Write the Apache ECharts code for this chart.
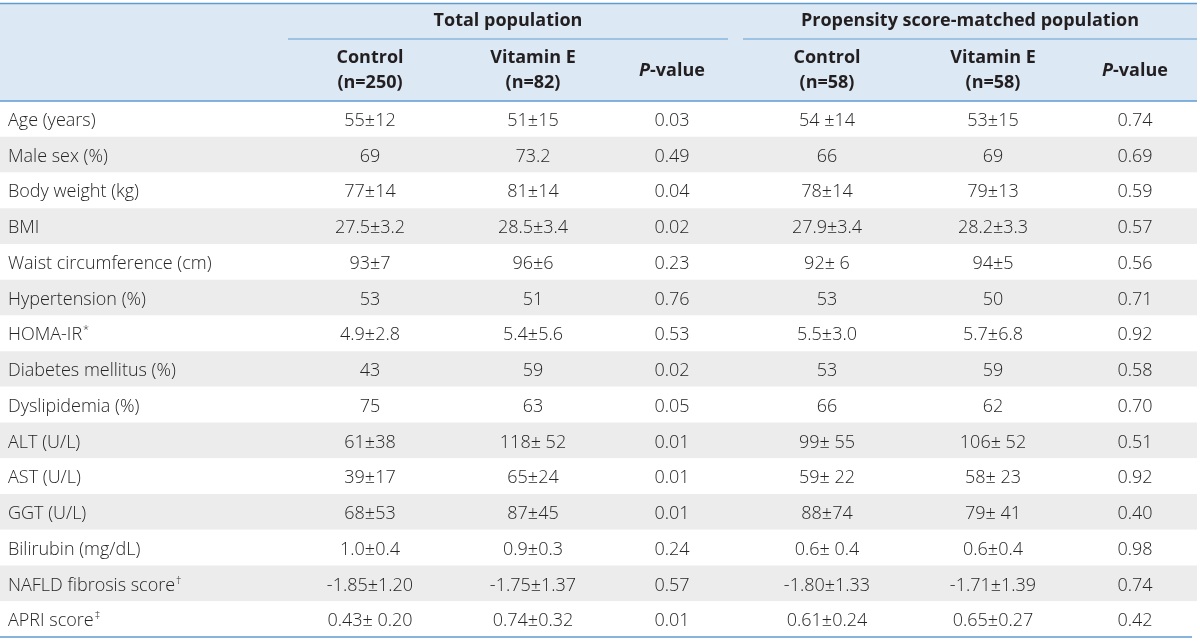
<!DOCTYPE html>
<html>
<head>
<meta charset="utf-8">
<script src="https://cdn.jsdelivr.net/npm/echarts@6/dist/echarts.min.js"></script>
<style>
html,body{margin:0;padding:0;background:#fff;}
#chart{width:1200px;height:643px;}
</style>
</head>
<body>
<div id="chart"></div>
<script>
// ---- data ----
var rowLabels = ['Age (years)', 'Male sex (%)', 'Body weight (kg)', 'BMI', 'Waist circumference (cm)',
  'Hypertension (%)', 'HOMA-IR', 'Diabetes mellitus (%)', 'Dyslipidemia (%)', 'ALT (U/L)', 'AST (U/L)',
  'GGT (U/L)', 'Bilirubin (mg/dL)', 'NAFLD fibrosis score', 'APRI score'];
var rowNotes = ['', '', '', '', '', '', '*', '', '', '', '', '', '', '\u2020', '\u2021'];
var groupLabels = ['Total population', 'Propensity score-matched population'];
var colHeads = [['Control', '(n=250)'], ['Vitamin E', '(n=82)'], ['P', '-value'],
                ['Control', '(n=58)'], ['Vitamin E', '(n=58)'], ['P', '-value']];
var totalControl = ['55\u00b112', '69', '77\u00b114', '27.5\u00b13.2', '93\u00b17', '53', '4.9\u00b12.8', '43', '75',
  '61\u00b138', '39\u00b117', '68\u00b153', '1.0\u00b10.4', '-1.85\u00b11.20', '0.43\u00b1 0.20'];
var totalVitE = ['51\u00b115', '73.2', '81\u00b114', '28.5\u00b13.4', '96\u00b16', '51', '5.4\u00b15.6', '59', '63',
  '118\u00b1 52', '65\u00b124', '87\u00b145', '0.9\u00b10.3', '-1.75\u00b11.37', '0.74\u00b10.32'];
var totalP = ['0.03', '0.49', '0.04', '0.02', '0.23', '0.76', '0.53', '0.02', '0.05', '0.01', '0.01', '0.01',
  '0.24', '0.57', '0.01'];
var psmControl = ['54 \u00b114', '66', '78\u00b114', '27.9\u00b13.4', '92\u00b1 6', '53', '5.5\u00b13.0', '53', '66',
  '99\u00b1 55', '59\u00b1 22', '88\u00b174', '0.6\u00b1 0.4', '-1.80\u00b11.33', '0.61\u00b10.24'];
var psmVitE = ['53\u00b115', '69', '79\u00b113', '28.2\u00b13.3', '94\u00b15', '50', '5.7\u00b16.8', '59', '62',
  '106\u00b1 52', '58\u00b1 23', '79\u00b1 41', '0.6\u00b10.4', '-1.71\u00b11.39', '0.65\u00b10.27'];
var psmP = ['0.74', '0.69', '0.59', '0.57', '0.56', '0.71', '0.92', '0.58', '0.70', '0.51', '0.92', '0.40',
  '0.98', '0.74', '0.42'];

// ---- layout ----
var W = 1200, H = 643;
var colCenters = [370, 533, 672, 827, 993, 1135];
var groupSpans = [[288, 728], [743, 1197]];
var headerTop = 4, headerBottom = 101, tableBottom = 637;
var FONT = '"Open Sans", "Noto Sans", sans-serif';
var lineColor = '#5f9bd0';
var textColor = '#262626';
var headColor = '#231f20';

var columns = [totalControl, totalVitE, totalP, psmControl, psmVitE, psmP];
var cellData = [];
columns.forEach(function (col, ci) {
  col.forEach(function (txt, ri) {
    cellData.push({ value: [colCenters[ci], ri], text: txt });
  });
});

var chart = echarts.init(document.getElementById('chart'), null, { renderer: 'canvas' });

var graphics = [];
graphics.push({ type: 'rect', shape: { x: 0, y: headerTop, width: 1197, height: headerBottom - headerTop },
  style: { fill: '#dce9f5' }, z: 0 });
graphics.push({ type: 'line', shape: { x1: 0, y1: 3.5, x2: 1197, y2: 3.5 }, style: { stroke: lineColor, lineWidth: 1.5 }, z: 5 });
graphics.push({ type: 'line', shape: { x1: 0, y1: headerBottom, x2: 1197, y2: headerBottom }, style: { stroke: lineColor, lineWidth: 1.5 }, z: 5 });
graphics.push({ type: 'line', shape: { x1: 0, y1: tableBottom, x2: 1192, y2: tableBottom }, style: { stroke: lineColor, lineWidth: 1.5 }, z: 5 });
groupSpans.forEach(function (s, i) {
  graphics.push({ type: 'line', shape: { x1: s[0], y1: 39, x2: s[1], y2: 39 }, style: { stroke: lineColor, lineWidth: 1.2 }, z: 5 });
  graphics.push({ type: 'text', x: (s[0] + s[1]) / 2, y: 21, z: 6,
    style: { text: groupLabels[i], fill: headColor, font: 'bold 18px ' + FONT, align: 'center', verticalAlign: 'middle' } });
});
colHeads.forEach(function (h, i) {
  if (h[0] === 'P') {
    graphics.push({ type: 'text', x: colCenters[i], y: 71, z: 6,
      style: { text: '{i|P}{b|-value}', align: 'center', verticalAlign: 'middle',
        rich: { i: { font: 'italic bold 18px ' + FONT, fill: headColor }, b: { font: 'bold 18px ' + FONT, fill: headColor } } } });
  } else {
    graphics.push({ type: 'text', x: colCenters[i], y: 58, z: 6,
      style: { text: h[0], fill: headColor, font: 'bold 18px ' + FONT, align: 'center', verticalAlign: 'middle' } });
    graphics.push({ type: 'text', x: colCenters[i], y: 83, z: 6,
      style: { text: h[1], fill: headColor, font: 'bold 18px ' + FONT, align: 'center', verticalAlign: 'middle' } });
  }
});

var option = {
  animation: false,
  graphic: graphics,
  grid: { left: 0, right: 3, top: headerBottom, bottom: H - tableBottom },
  xAxis: { type: 'value', min: 0, max: 1197, show: false },
  yAxis: {
    type: 'category', data: rowLabels, inverse: true,
    axisLine: { show: false }, axisTick: { show: false }, splitLine: { show: false },
    splitArea: { show: true, areaStyle: { color: ['#ffffff', '#ececec'] } },
    axisLabel: {
      inside: true, margin: 8, color: textColor, fontSize: 18, fontWeight: 300, fontFamily: FONT,
      padding: [4, 0, 0, 0],
      formatter: function (v, idx) {
        return rowNotes[idx] ? v + '{s|' + rowNotes[idx] + '}' : v;
      },
      rich: { s: { fontSize: 11, fontWeight: 300, fontFamily: FONT, color: textColor, verticalAlign: 'top', padding: [0, 0, 10, 1] } }
    }
  },
  series: [{
    type: 'custom',
    data: cellData,
    renderItem: function (params, api) {
      var p = api.coord([api.value(0), api.value(1)]);
      var item = cellData[params.dataIndex];
      return { type: 'text', x: p[0], y: p[1] + 2,
        style: { text: item.text, fill: textColor, font: '300 18px ' + FONT, align: 'center', verticalAlign: 'middle' } };
    }
  }]
};
chart.setOption(option);
</script>
</body>
</html>
